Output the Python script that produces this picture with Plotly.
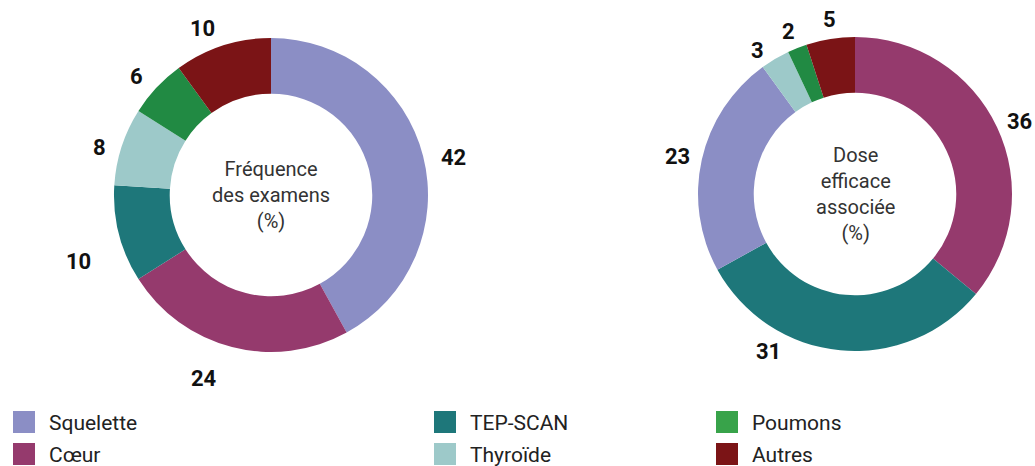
import math
import plotly.graph_objects as go

# ---- data ----
categories = ["Squelette", "Cœur", "TEP-SCAN", "Thyroïde", "Poumons", "Autres"]
freq_values = [42, 24, 10, 8, 6, 10]          # Fréquence des examens (%)
dose_labels = ["Cœur", "TEP-SCAN", "Squelette", "Thyroïde", "Poumons", "Autres"]
dose_values = [36, 31, 23, 3, 2, 5]           # Dose efficace associée (%)

# ---- style ----
W, H = 1035, 466
FONT = "Roboto, 'DejaVu Sans', sans-serif"
pie_colors = {
    "Squelette": "#8b8ec5",
    "Cœur": "#953a6d",
    "TEP-SCAN": "#1e777a",
    "Thyroïde": "#9dc9c9",
    "Poumons": "#218a43",
    "Autres": "#7b1416",
}
legend_colors = dict(pie_colors, Poumons="#38a34a")

# donut geometry (pixels): centre x, centre y (from top), radius
left_geo = (271, 195, 157)
right_geo = (855, 194, 157)
hole = 0.645
# outer value labels: angular nudge (deg) and distance from centre (px)
left_nudge = [2.9, 5.7, -4.7, -2.4, -1.8, -4.2]
left_rad = [186, 195, 204, 178, 179, 180]
right_nudge = [1.4, 23.4, -0.8, -3.6, -0.6, 0.8]
right_rad = [180, 180, 181, 174, 175, 176]


def domain(geo):
    cx, cy, r = geo
    return dict(x=[(cx - r) / W, (cx + r) / W],
                y=[(H - cy - r) / H, (H - cy + r) / H])


fig = go.Figure()
for labels, values, geo in [(categories, freq_values, left_geo),
                            (dose_labels, dose_values, right_geo)]:
    fig.add_trace(go.Pie(
        labels=labels, values=values, hole=hole, sort=False,
        direction="clockwise", rotation=0, domain=domain(geo),
        marker=dict(colors=[pie_colors[l] for l in labels], line=dict(width=0)),
        textinfo="none", hoverinfo="label+value", showlegend=False,
    ))

annotations = []


def add_labels(values, geo, rads, nudges):
    cx, cy, _ = geo
    total = sum(values)
    cum = 0
    for v, nd, rad in zip(values, nudges, rads):
        mid = (cum + v / 2) / total * 360 + nd
        cum += v
        t = math.radians(mid)
        px = cx + rad * math.sin(t)
        py = cy - rad * math.cos(t)
        annotations.append(dict(
            x=px / W, y=(H - py) / H, xref="paper", yref="paper",
            text=f"<b>{v}</b>", showarrow=False, xanchor="center", yanchor="middle",
            font=dict(family=FONT, size=22, color="#111111")))


add_labels(freq_values, left_geo, left_rad, left_nudge)
add_labels(dose_values, right_geo, right_rad, right_nudge)

# centre titles
for geo, txt in [(left_geo, "Fréquence<br>des examens<br>(%)"),
                 (right_geo, "Dose<br>efficace<br>associée<br>(%)")]:
    cx, cy, _ = geo
    annotations.append(dict(
        x=cx / W, y=(H - cy) / H, xref="paper", yref="paper", text=txt,
        showarrow=False, xanchor="center", yanchor="middle", align="center",
        font=dict(family=FONT, size=20, color="#333333")))

# custom legend: 3 columns x 2 rows
legend_order = ["Squelette", "Cœur", "TEP-SCAN", "Thyroïde", "Poumons", "Autres"]
col_x = [13, 434, 716]
row_y = [411, 443]
sq = 22
shapes = []
for i, name in enumerate(legend_order):
    x0 = col_x[i // 2]
    y0 = row_y[i % 2]
    shapes.append(dict(type="rect", xref="paper", yref="paper",
                       x0=x0 / W, x1=(x0 + sq) / W,
                       y0=(H - y0 - sq) / H, y1=(H - y0) / H,
                       fillcolor=legend_colors[name], line=dict(width=0)))
    annotations.append(dict(
        x=(x0 + 34) / W, y=(H - y0 - sq / 2 - 1) / H, xref="paper", yref="paper",
        text=name, showarrow=False, xanchor="left", yanchor="middle",
        font=dict(family=FONT, size=21, color="#222222")))

fig.update_layout(
    width=W, height=H, margin=dict(l=0, r=0, t=0, b=0),
    paper_bgcolor="white", plot_bgcolor="white",
    annotations=annotations, shapes=shapes, showlegend=False,
)
fig.write_html(
    "out.html",
    config={"displayModeBar": False},
    post_script="document.body.style.margin='0';document.body.style.overflow='hidden';",
)
